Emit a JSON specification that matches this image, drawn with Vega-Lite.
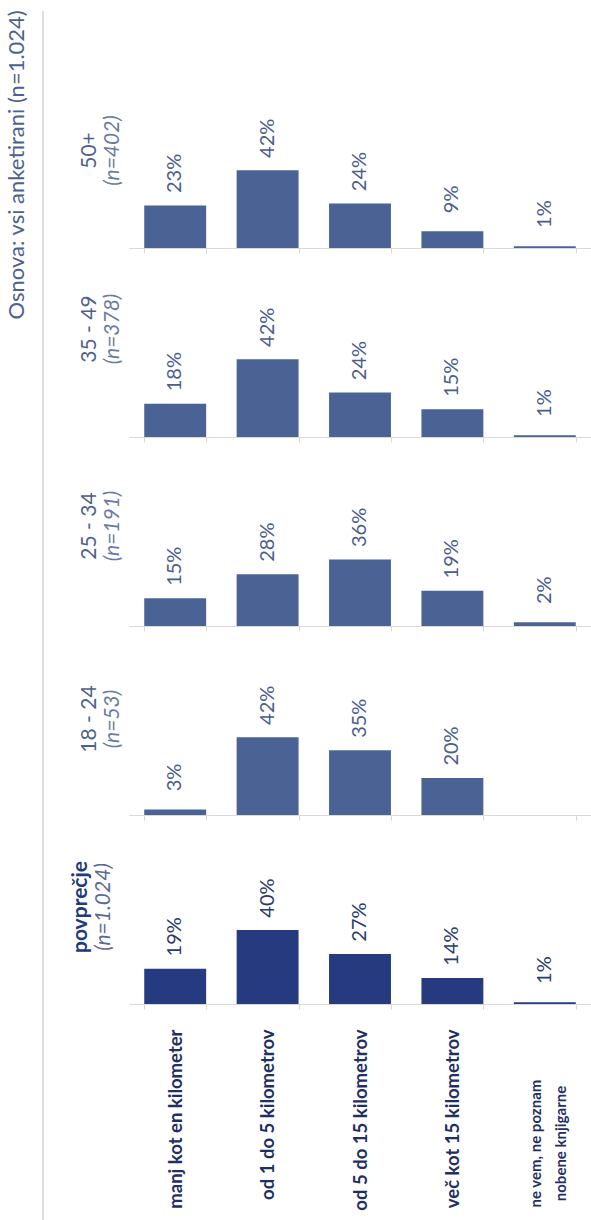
{
  "$schema": "https://vega.github.io/schema/vega-lite/v6.json",
  "padding": {"left": 6, "top": 10, "right": 0, "bottom": 0},
  "background": "white",
  "config": {"view": {"stroke": null}, "font": "Lato"},
  "datasets": {
    "d": [
      {"group": "50+", "cat": "manj kot en kilometer", "value": 0.23},
      {"group": "50+", "cat": "od 1 do 5 kilometrov", "value": 0.42},
      {"group": "50+", "cat": "od 5 do 15 kilometrov", "value": 0.24},
      {"group": "50+", "cat": "več kot 15 kilometrov", "value": 0.09},
      {"group": "50+", "cat": "ne vem, ne poznam nobene knjigarne", "value": 0.01},
      {"group": "35 - 49", "cat": "manj kot en kilometer", "value": 0.18},
      {"group": "35 - 49", "cat": "od 1 do 5 kilometrov", "value": 0.42},
      {"group": "35 - 49", "cat": "od 5 do 15 kilometrov", "value": 0.24},
      {"group": "35 - 49", "cat": "več kot 15 kilometrov", "value": 0.15},
      {"group": "35 - 49", "cat": "ne vem, ne poznam nobene knjigarne", "value": 0.01},
      {"group": "25 - 34", "cat": "manj kot en kilometer", "value": 0.15},
      {"group": "25 - 34", "cat": "od 1 do 5 kilometrov", "value": 0.28},
      {"group": "25 - 34", "cat": "od 5 do 15 kilometrov", "value": 0.36},
      {"group": "25 - 34", "cat": "več kot 15 kilometrov", "value": 0.19},
      {"group": "25 - 34", "cat": "ne vem, ne poznam nobene knjigarne", "value": 0.02},
      {"group": "18 - 24", "cat": "manj kot en kilometer", "value": 0.03},
      {"group": "18 - 24", "cat": "od 1 do 5 kilometrov", "value": 0.42},
      {"group": "18 - 24", "cat": "od 5 do 15 kilometrov", "value": 0.35},
      {"group": "18 - 24", "cat": "več kot 15 kilometrov", "value": 0.20},
      {"group": "povprečje", "cat": "manj kot en kilometer", "value": 0.19},
      {"group": "povprečje", "cat": "od 1 do 5 kilometrov", "value": 0.40},
      {"group": "povprečje", "cat": "od 5 do 15 kilometrov", "value": 0.27},
      {"group": "povprečje", "cat": "več kot 15 kilometrov", "value": 0.14},
      {"group": "povprečje", "cat": "ne vem, ne poznam nobene knjigarne", "value": 0.01}
    ]
  },
  "spacing": 25,
  "hconcat": [
    {
      "width": 1,
      "height": 1210,
      "data": {"values": [{"k": 0}]},
      "title": {"text": "Osnova: vsi anketirani (n=1.024)", "orient": "left", "anchor": "end", "fontSize": 22, "font": "Lato", "fontWeight": "normal", "color": "#4d6190", "offset": 13},
      "mark": {"type": "rule", "color": "#d4d4d4", "strokeWidth": 1.5},
      "encoding": {"x": {"datum": 0, "type": "quantitative", "scale": {"domain": [0, 1]}, "axis": null}}
    },
    {
      "spacing": 33,
      "vconcat": [
        {
          "width": 462, "height": 237,
          "data": {"name": "d"},
          "transform": [{"filter": "datum.group == '50+'"}],
          "title": {"text": "50+", "subtitle": "(n=402)", "orient": "left", "anchor": "middle", "dx": -21, "offset": 6, "font": "Lato", "fontSize": 21, "fontWeight": "normal", "color": "#4d6190", "subtitleFont": "Lato", "subtitleFontSize": 21, "subtitleFontStyle": "italic", "subtitleColor": "#6b7aa3", "subtitlePadding": 2},
          "encoding": {
            "x": {"field": "cat", "type": "nominal", "sort": null, "scale": {"domain": ["manj kot en kilometer", "od 1 do 5 kilometrov", "od 5 do 15 kilometrov", "več kot 15 kilometrov", "ne vem, ne poznam nobene knjigarne"], "paddingInner": 0.33, "paddingOuter": 0.165}, "axis": {"labels": false, "title": null, "tickBand": "extent", "tickSize": 5, "tickColor": "#d9d9d9", "domainColor": "#d9d9d9"}},
            "y": {"field": "value", "type": "quantitative", "scale": {"domain": [0, 1.281]}, "axis": null}
          },
          "layer": [
            {"mark": {"type": "bar", "color": "#4a6294"}},
            {"mark": {"type": "text", "angle": 270, "dx": 32, "align": "center", "baseline": "middle", "font": "Lato", "fontSize": 20, "color": "#4b5c8e"}, "encoding": {"text": {"field": "value", "type": "quantitative", "format": ".0%"}}}
          ]
        },
        {
          "width": 462, "height": 150,
          "data": {"name": "d"},
          "transform": [{"filter": "datum.group == '35 - 49'"}],
          "title": {"text": "35 - 49", "subtitle": "(n=378)", "orient": "left", "anchor": "middle", "dx": 33, "offset": 6, "font": "Lato", "fontSize": 21, "fontWeight": "normal", "color": "#4d6190", "subtitleFont": "Lato", "subtitleFontSize": 21, "subtitleFontStyle": "italic", "subtitleColor": "#6b7aa3", "subtitlePadding": 2},
          "encoding": {
            "x": {"field": "cat", "type": "nominal", "sort": null, "scale": {"domain": ["manj kot en kilometer", "od 1 do 5 kilometrov", "od 5 do 15 kilometrov", "več kot 15 kilometrov", "ne vem, ne poznam nobene knjigarne"], "paddingInner": 0.33, "paddingOuter": 0.165}, "axis": {"labels": false, "title": null, "tickBand": "extent", "tickSize": 5, "tickColor": "#d9d9d9", "domainColor": "#d9d9d9"}},
            "y": {"field": "value", "type": "quantitative", "scale": {"domain": [0, 0.811]}, "axis": null}
          },
          "layer": [
            {"mark": {"type": "bar", "color": "#4a6294"}},
            {"mark": {"type": "text", "angle": 270, "dx": 32, "align": "center", "baseline": "middle", "font": "Lato", "fontSize": 20, "color": "#4b5c8e"}, "encoding": {"text": {"field": "value", "type": "quantitative", "format": ".0%"}}}
          ]
        },
        {
          "width": 462, "height": 150,
          "data": {"name": "d"},
          "transform": [{"filter": "datum.group == '25 - 34'"}],
          "title": {"text": "25 - 34", "subtitle": "(n=191)", "orient": "left", "anchor": "middle", "dx": 25, "offset": 6, "font": "Lato", "fontSize": 21, "fontWeight": "normal", "color": "#4d6190", "subtitleFont": "Lato", "subtitleFontSize": 21, "subtitleFontStyle": "italic", "subtitleColor": "#6b7aa3", "subtitlePadding": 2},
          "encoding": {
            "x": {"field": "cat", "type": "nominal", "sort": null, "scale": {"domain": ["manj kot en kilometer", "od 1 do 5 kilometrov", "od 5 do 15 kilometrov", "več kot 15 kilometrov", "ne vem, ne poznam nobene knjigarne"], "paddingInner": 0.33, "paddingOuter": 0.165}, "axis": {"labels": false, "title": null, "tickBand": "extent", "tickSize": 5, "tickColor": "#d9d9d9", "domainColor": "#d9d9d9"}},
            "y": {"field": "value", "type": "quantitative", "scale": {"domain": [0, 0.811]}, "axis": null}
          },
          "layer": [
            {"mark": {"type": "bar", "color": "#4a6294"}},
            {"mark": {"type": "text", "angle": 270, "dx": 32, "align": "center", "baseline": "middle", "font": "Lato", "fontSize": 20, "color": "#4b5c8e"}, "encoding": {"text": {"field": "value", "type": "quantitative", "format": ".0%"}}}
          ]
        },
        {
          "width": 462, "height": 150,
          "data": {"name": "d"},
          "transform": [{"filter": "datum.group == '18 - 24'"}],
          "title": {"text": "18 - 24", "subtitle": "(n=53)", "orient": "left", "anchor": "middle", "dx": 21, "offset": 6, "font": "Lato", "fontSize": 21, "fontWeight": "normal", "color": "#4d6190", "subtitleFont": "Lato", "subtitleFontSize": 21, "subtitleFontStyle": "italic", "subtitleColor": "#6b7aa3", "subtitlePadding": 2},
          "encoding": {
            "x": {"field": "cat", "type": "nominal", "sort": null, "scale": {"domain": ["manj kot en kilometer", "od 1 do 5 kilometrov", "od 5 do 15 kilometrov", "več kot 15 kilometrov", "ne vem, ne poznam nobene knjigarne"], "paddingInner": 0.33, "paddingOuter": 0.165}, "axis": {"labels": false, "title": null, "tickBand": "extent", "tickSize": 5, "tickColor": "#d9d9d9", "domainColor": "#d9d9d9"}},
            "y": {"field": "value", "type": "quantitative", "scale": {"domain": [0, 0.811]}, "axis": null}
          },
          "layer": [
            {"mark": {"type": "bar", "color": "#4a6294"}},
            {"mark": {"type": "text", "angle": 270, "dx": 32, "align": "center", "baseline": "middle", "font": "Lato", "fontSize": 20, "color": "#4b5c8e"}, "encoding": {"text": {"field": "value", "type": "quantitative", "format": ".0%"}}}
          ]
        },
        {
          "width": 462, "height": 150,
          "data": {"name": "d"},
          "transform": [{"filter": "datum.group == 'povprečje'"}],
          "title": {"text": "povprečje", "subtitle": "(n=1.024)", "orient": "left", "anchor": "middle", "dx": 22, "offset": 6, "font": "Lato", "fontSize": 21, "fontWeight": "bold", "color": "#223a7a", "subtitleFont": "Lato", "subtitleFontSize": 21, "subtitleFontStyle": "italic", "subtitleColor": "#5a6a98", "subtitlePadding": 2},
          "encoding": {
            "x": {"field": "cat", "type": "nominal", "sort": null, "scale": {"domain": ["manj kot en kilometer", "od 1 do 5 kilometrov", "od 5 do 15 kilometrov", "več kot 15 kilometrov", "ne vem, ne poznam nobene knjigarne"], "paddingInner": 0.33, "paddingOuter": 0.165},
              "axis": {"title": null, "tickBand": "extent", "tickSize": 5, "tickColor": "#d9d9d9", "domainColor": "#d9d9d9", "labelAngle": 270, "labelFont": "Lato", "labelFontWeight": "bold", "labelColor": "#1f2f66", "labelLimit": 400, "labelOverlap": false, "labelLineHeight": 25,
                "labelExpr": "datum.value == 'ne vem, ne poznam nobene knjigarne' ? ['ne vem, ne poznam', 'nobene knjigarne'] : datum.label",
                "labelFontSize": {"condition": {"test": "datum.value == 'ne vem, ne poznam nobene knjigarne'", "value": 15}, "value": 18.5},
                "labelAlign": {"condition": {"test": "datum.value == 'ne vem, ne poznam nobene knjigarne'", "value": "center"}, "value": "right"},
                "labelOffset": {"condition": {"test": "datum.value == 'ne vem, ne poznam nobene knjigarne'", "value": -9}, "value": 0},
                "labelPadding": {"condition": {"test": "datum.value == 'ne vem, ne poznam nobene knjigarne'", "value": 134}, "value": 20}}},
            "y": {"field": "value", "type": "quantitative", "scale": {"domain": [0, 0.811]}, "axis": null}
          },
          "layer": [
            {"mark": {"type": "bar", "color": "#263a80"}},
            {"mark": {"type": "text", "angle": 270, "dx": 32, "align": "center", "baseline": "middle", "font": "Lato", "fontSize": 20, "color": "#2b3a70"}, "encoding": {"text": {"field": "value", "type": "quantitative", "format": ".0%"}}}
          ]
        }
      ]
    }
  ]
}
